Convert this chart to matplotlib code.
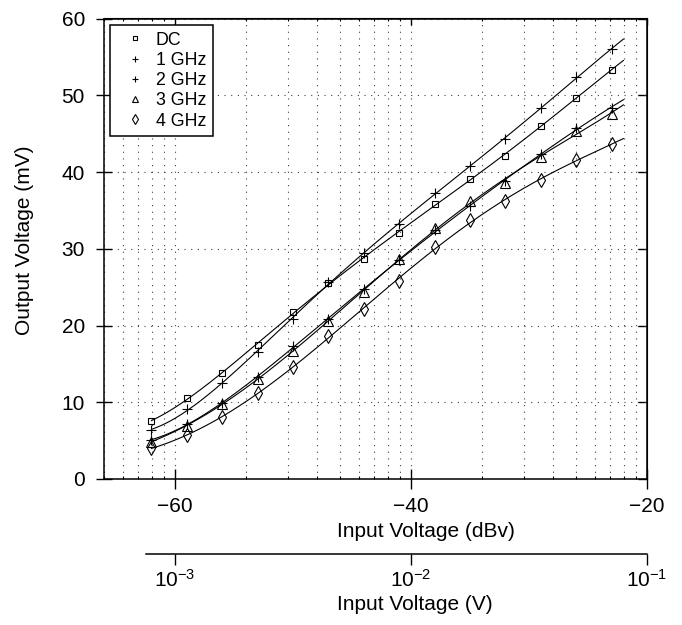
import numpy as np
import matplotlib
matplotlib.use("Agg")
import matplotlib.pyplot as plt
from matplotlib.ticker import FixedLocator, NullFormatter, NullLocator, FixedFormatter

plt.rcParams['font.family'] = ['Liberation Sans', 'DejaVu Sans']
plt.rcParams['mathtext.default'] = 'regular'
plt.rcParams['axes.unicode_minus'] = True

# ---- data ----
input_dbv = [-62, -59, -56, -53, -50, -47, -44, -41, -38, -35, -32, -29, -26, -23]
out_dc   = [7.56, 10.5, 13.8, 17.5, 21.7, 25.5, 28.7, 32.1, 35.8, 39.1, 42.1, 46.0, 49.7, 53.3]
out_1ghz = [6.38, 9.1, 12.5, 16.6, 20.85, 25.7, 29.5, 33.2, 37.2, 40.8, 44.3, 48.3, 52.4, 56.0]
out_2ghz = [5.08, 7.2, 9.9, 13.25, 17.3, 20.9, 24.7, 28.5, 32.4, 35.6, 38.8, 42.3, 45.7, 48.4]
out_3ghz = [4.86, 6.95, 9.8, 13.0, 16.7, 20.6, 24.4, 28.6, 32.7, 36.2, 38.6, 42.0, 45.3, 47.6]
out_4ghz = [4.0, 5.7, 8.1, 11.2, 14.55, 18.6, 22.2, 25.8, 30.2, 33.7, 36.2, 39.0, 41.6, 43.6]
series_labels = ['DC', '1 GHz', '2 GHz', '3 GHz', '4 GHz']
x_ticks_dbv = [-60, -40, -20]
y_ticks = [0, 10, 20, 30, 40, 50, 60]
v_ticks = [1e-3, 1e-2, 1e-1]

W, H = 682, 625
fig = plt.figure(figsize=(W / 100, H / 100), dpi=100)
PX = 0.72  # points per pixel at dpi 100

L, R, T, B = 104, 647, 18.5, 479
ax = fig.add_axes([L / W, (H - B) / H, (R - L) / W, (B - T) / H])

xmin = 20 * np.log10(5e-4)
ax.set_xlim(xmin, -20)
ax.set_ylim(0, 60)

markers = ['s', '+', '+', '^', 'd']
msizes = [5.0, 7.0, 7.0, 7.0, 7.2]
all_series = [out_dc, out_1ghz, out_2ghz, out_3ghz, out_4ghz]
xs = np.array(input_dbv, dtype=float)
xfine = np.linspace(-62, -22, 300)
for ys, m, ms, lab in zip(all_series, markers, msizes, series_labels):
    ys = np.array(ys, dtype=float)
    c = np.polyfit(xs, ys, 5)
    ax.plot(xfine, np.polyval(c, xfine), color='black', lw=0.8, zorder=3)
    ax.plot(xs, ys, ls='none', marker=m, ms=ms, mfc='none', mec='black',
            mew=0.8, label=lab, zorder=4)

# minor grid positions (log V decades mapped to dBV)
minor_v = [k * 10.0 ** e for e in (-4, -3, -2) for k in range(2, 10)]
minor_db = [20 * np.log10(v) for v in minor_v if xmin - 1e-6 <= 20 * np.log10(v) <= -20]

ax.xaxis.set_major_locator(FixedLocator(x_ticks_dbv))
ax.xaxis.set_minor_locator(FixedLocator(minor_db))
ax.set_xticklabels(['\u221260', '\u221240', '\u221220'])
ax.set_yticks(y_ticks)

gstyle = dict(color='0.25', linestyle=(0, (1, 5)), linewidth=0.8)
ax.grid(True, which='major', axis='both', **gstyle)
ax.grid(True, which='minor', axis='x', **gstyle)
ax.set_axisbelow(True)

ax.tick_params(axis='x', which='major', direction='inout', length=20 * PX,
               width=1.0, labelsize=15, pad=6)
ax.tick_params(axis='x', which='minor', direction='in', length=3 * PX, width=0.8)
ax.tick_params(axis='y', which='major', direction='inout', length=16 * PX,
               width=1.0, labelsize=15, pad=8)
for s in ax.spines.values():
    s.set_linewidth(1.1)

ax.set_xlabel('Input Voltage (dBv)', fontsize=15)
ax.xaxis.set_label_coords(426 / W, (H - 522) / H, transform=fig.transFigure)
ax.set_ylabel('Output Voltage (mV)', fontsize=15)
ax.yaxis.set_label_coords(34 / W, (H - 240) / H, transform=fig.transFigure)

# top ticks
top = ax.secondary_xaxis('top', functions=(lambda x: x, lambda x: x))
top.xaxis.set_major_locator(FixedLocator(x_ticks_dbv))
top.xaxis.set_minor_locator(FixedLocator(minor_db))
top.tick_params(which='major', direction='in', length=7 * PX, width=1.0, labeltop=False)
top.tick_params(which='minor', direction='in', length=3 * PX, width=0.8)
top.xaxis.set_major_formatter(NullFormatter())

# right ticks
right = ax.secondary_yaxis('right', functions=(lambda y: y, lambda y: y))
right.set_yticks(y_ticks)
right.tick_params(direction='in', length=9 * PX, width=1.0, labelright=False)
right.yaxis.set_major_formatter(NullFormatter())

leg = ax.legend(loc='upper left', bbox_to_anchor=(0.011, 0.986), borderaxespad=0,
                fontsize=12.8, frameon=True, fancybox=False, markerscale=0.65,
                handlelength=2.0, handletextpad=0.2, labelspacing=0.18,
                borderpad=0.38)
leg.get_frame().set_edgecolor('black')
leg.get_frame().set_linewidth(1.1)
leg.get_frame().set_alpha(1)

# secondary axis in volts
yline = 554
ax2 = fig.add_axes([L / W, (H - yline) / H, (R - L) / W, 0.0001])
ax2.set_xscale('log')
ax2.set_xlim(5e-4, 0.1)
ax2.patch.set_visible(False)
for sname in ('top', 'left', 'right'):
    ax2.spines[sname].set_visible(False)
ax2.spines['bottom'].set_bounds(10 ** (-62.5 / 20), 0.1)
ax2.spines['bottom'].set_linewidth(1.1)
ax2.set_yticks([])
ax2.xaxis.set_major_locator(FixedLocator(v_ticks))
ax2.xaxis.set_minor_locator(NullLocator())
ax2.xaxis.set_major_formatter(FixedFormatter(['$10^{-3}$', '$10^{-2}$', '$10^{-1}$']))
ax2.tick_params(axis='x', direction='out', length=11 * PX, width=1.0, labelsize=15, pad=3)
ax2.set_xlabel('Input Voltage (V)', fontsize=15)
ax2.xaxis.set_label_coords(415 / W, (H - 595) / H, transform=fig.transFigure)

fig.savefig('out.png', dpi=100)
